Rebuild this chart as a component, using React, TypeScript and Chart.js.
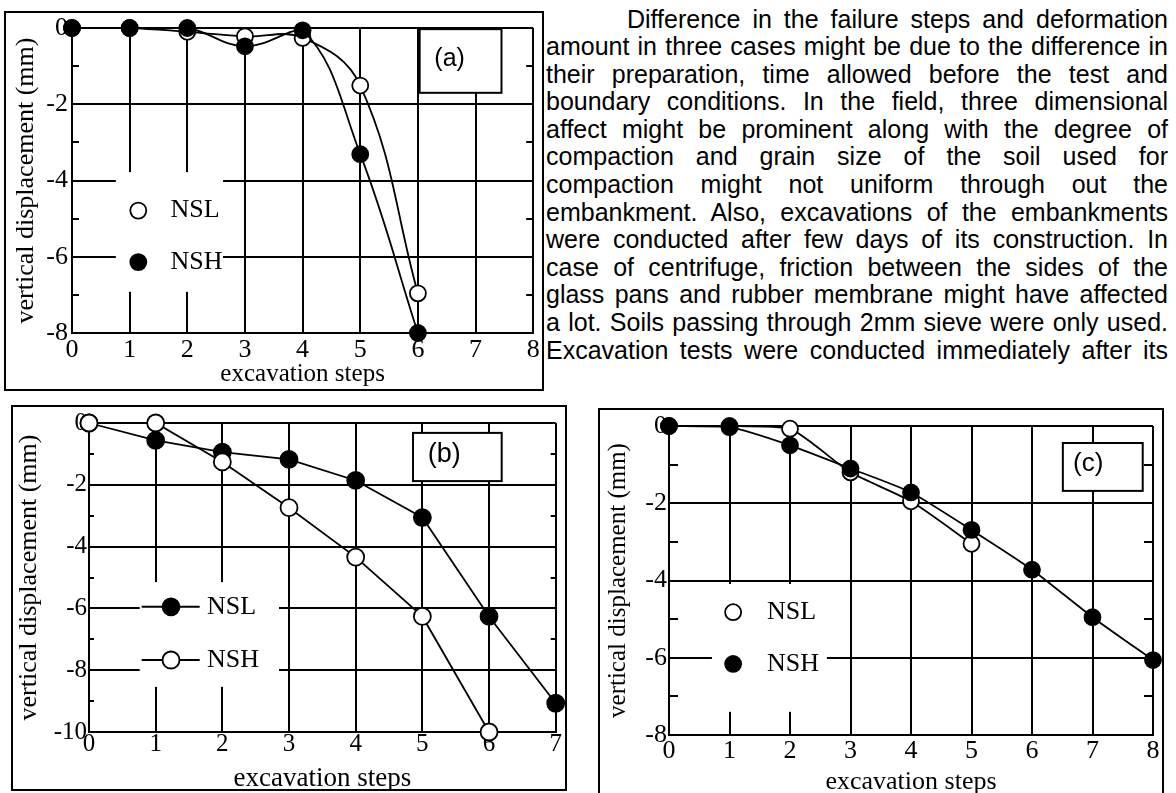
import React, { useEffect, useRef } from "react";
import { Chart, registerables } from "chart.js";

Chart.register(...registerables);

// ---------------- data ----------------
const stepsA = [0, 1, 2, 3, 4, 5, 6];
const nslA = [0, 0, -0.1, -0.22, -0.26, -1.51, -6.96];
const nshA = [0, 0, 0, -0.48, -0.06, -3.31, -8];

const stepsB = [0, 1, 2, 3, 4, 5, 6, 7];
const nslB = [0, -0.56, -0.94, -1.18, -1.86, -3.06, -6.26, -9.07];
const nshB = [0, 0, -1.26, -2.74, -4.34, -6.26, -10];

const stepsC = [0, 1, 2, 3, 4, 5, 6, 7, 8];
const nslC = [0, 0, -0.07, -1.2, -1.95, -3.05];
const nshC = [0, -0.03, -0.5, -1.1, -1.72, -2.69, -3.72, -4.95, -6.06];

const xRangeA = [0, 8];
const yRangeA = [-8, 0];
const xRangeB = [0, 7];
const yRangeB = [-10, 0];
const xRangeC = [0, 8];
const yRangeC = [-8, 0];

const seriesNames = ["NSL", "NSH"];
const panelNames = ["(a)", "(b)", "(c)"];
const xAxisTitle = "excavation steps";
const yAxisTitle = "vertical displacement (mm)";

const paragraphLines = [
  "Difference in the failure steps and deformation",
  "amount in three cases might be due to the difference in",
  "their preparation, time allowed before the test and",
  "boundary conditions. In the field, three dimensional",
  "affect might be prominent along with the degree of",
  "compaction and grain size of the soil used for",
  "compaction might not uniform through out the",
  "embankment. Also, excavations of the embankments",
  "were conducted after few days of its construction. In",
  "case of centrifuge, friction between the sides of the",
  "glass pans and rubber membrane might have affected",
  "a lot. Soils passing through 2mm sieve were only used.",
  "Excavation tests were conducted immediately after its",
];

// ---------------- styling / layout ----------------
const SERIF = '"Liberation Serif", "Times New Roman", serif';
const SANS = '"Liberation Sans", Arial, sans-serif';

type Series = { name: string; xs: number[]; ys: number[]; filled: boolean; top: boolean };
type PanelSpec = {
  name: string;
  canvas: { left: number; top: number; width: number; height: number };
  frame: { left: number; top: number; width: number; height: number };
  padTop: number;
  padRight: number;
  yAxisW: number;
  xAxisH: number;
  xRange: number[];
  yRange: number[];
  tickSize: number;
  xTickPad: number;
  yTickPad: number;
  xTitleSize: number;
  xTitlePad: number;
  yTitleSize: number;
  yTitlePad: number;
  radius: number;
  tension: number;
  minorLen: number;
  series: Series[];
  legend: { rect: number[]; markerX: number; textX: number; rows: number[]; segment: number[] | null; fontSize: number };
  tag: { rect: number[]; tx: number; ty: number; fontSize: number };
};

const panels: PanelSpec[] = [
  {
    name: panelNames[0],
    canvas: { left: 5, top: 12, width: 538, height: 378 },
    frame: { left: 4, top: 11, width: 540, height: 380 },
    padTop: 16,
    padRight: 7,
    yAxisW: 67,
    xAxisH: 57,
    xRange: xRangeA,
    yRange: yRangeA,
    tickSize: 26,
    xTickPad: 2,
    yTickPad: 4,
    xTitleSize: 25,
    xTitlePad: 0.4,
    yTitleSize: 26,
    yTitlePad: 6,
    radius: 8,
    tension: 0.4,
    minorLen: 7,
    series: [
      { name: seriesNames[0], xs: stepsA, ys: nslA, filled: false, top: false },
      { name: seriesNames[1], xs: stepsA, ys: nshA, filled: true, top: true },
    ],
    legend: { rect: [0.76, 2.62, -3.78, -6.92], markerX: 1.15, textX: 1.71, rows: [-4.79, -6.14], segment: null, fontSize: 26 },
    tag: { rect: [6.03, 7.45, -0.03, -1.7], tx: 6.55, ty: -0.83, fontSize: 25 },
  },
  {
    name: panelNames[1],
    canvas: { left: 12, top: 406, width: 554, height: 384 },
    frame: { left: 11, top: 405, width: 556, height: 386 },
    padTop: 17,
    padRight: 10,
    yAxisW: 77,
    xAxisH: 58,
    xRange: xRangeB,
    yRange: yRangeB,
    tickSize: 25,
    xTickPad: -3,
    yTickPad: 2,
    xTitleSize: 27,
    xTitlePad: -5.1,
    yTitleSize: 26,
    yTitlePad: 1.6,
    radius: 8.5,
    tension: 0,
    minorLen: 5,
    series: [
      { name: seriesNames[0], xs: stepsB, ys: nslB, filled: true, top: false },
      { name: seriesNames[1], xs: stepsB, ys: nshB, filled: false, top: true },
    ],
    legend: { rect: [0.76, 2.85, -5.15, -8.54], markerX: 1.23, textX: 1.77, rows: [-5.95, -7.67], segment: [0.79, 1.66], fontSize: 26 },
    tag: { rect: [4.86, 6.19, -0.32, -1.88], tx: 5.33, ty: -1.04, fontSize: 27 },
  },
  {
    name: panelNames[2],
    canvas: { left: 599, top: 409, width: 564, height: 391 },
    frame: { left: 598, top: 408, width: 566, height: 400 },
    padTop: 17,
    padRight: 10,
    yAxisW: 70,
    xAxisH: 65,
    xRange: xRangeC,
    yRange: yRangeC,
    tickSize: 26,
    xTickPad: 1,
    yTickPad: 2,
    xTitleSize: 26,
    xTitlePad: 2.2,
    yTitleSize: 25,
    yTitlePad: 4.3,
    radius: 8,
    tension: 0.2,
    minorLen: 9,
    series: [
      { name: seriesNames[0], xs: stepsC, ys: nslC, filled: false, top: false },
      { name: seriesNames[1], xs: stepsC, ys: nshC, filled: true, top: true },
    ],
    legend: { rect: [0.71, 2.61, -4.09, -7.4], markerX: 1.06, textX: 1.62, rows: [-4.82, -6.16], segment: null, fontSize: 26 },
    tag: { rect: [6.51, 7.83, -0.44, -1.68], tx: 6.93, ty: -0.98, fontSize: 26 },
  },
];

const pts = (xs: number[], ys: number[]) => ys.map((y, i) => ({ x: xs[i], y }));

function decorPlugin(p: PanelSpec) {
  return {
    id: "decor",
    beforeDatasetsDraw(chart: any) {
      const { ctx, chartArea: ca } = chart;
      const x = chart.scales.x;
      const y = chart.scales.y;
      ctx.save();
      // minor ticks at odd values, inside both vertical edges
      ctx.strokeStyle = "#000";
      ctx.lineWidth = 2;
      for (let v = p.yRange[0] + 1; v < p.yRange[1]; v += 2) {
        const py = Math.round(y.getPixelForValue(v));
        ctx.beginPath();
        ctx.moveTo(ca.left, py);
        ctx.lineTo(ca.left + p.minorLen, py);
        ctx.moveTo(ca.right - p.minorLen, py);
        ctx.lineTo(ca.right, py);
        ctx.stroke();
      }
      // legend background
      const L = p.legend;
      const lx1 = x.getPixelForValue(L.rect[0]);
      const lx2 = x.getPixelForValue(L.rect[1]);
      const ly1 = y.getPixelForValue(L.rect[2]);
      const ly2 = y.getPixelForValue(L.rect[3]);
      ctx.fillStyle = "#fff";
      ctx.fillRect(lx1, ly1, lx2 - lx1, ly2 - ly1);
      // panel tag box
      const T = p.tag;
      const tx1 = x.getPixelForValue(T.rect[0]);
      const tx2 = x.getPixelForValue(T.rect[1]);
      const ty1 = y.getPixelForValue(T.rect[2]);
      const ty2 = y.getPixelForValue(T.rect[3]);
      ctx.fillStyle = "#fff";
      ctx.fillRect(tx1, ty1, tx2 - tx1, ty2 - ty1);
      ctx.strokeStyle = "#000";
      ctx.lineWidth = 2;
      ctx.strokeRect(tx1, ty1, tx2 - tx1, ty2 - ty1);
      ctx.fillStyle = "#000";
      ctx.font = `${T.fontSize}px ${SANS}`;
      ctx.textAlign = "center";
      ctx.textBaseline = "alphabetic";
      ctx.fillText(p.name, x.getPixelForValue(T.tx), y.getPixelForValue(T.ty) + 0.26 * T.fontSize);
      ctx.restore();
    },
    afterDatasetsDraw(chart: any) {
      const { ctx } = chart;
      const x = chart.scales.x;
      const y = chart.scales.y;
      const L = p.legend;
      ctx.save();
      seriesNames.forEach((name, i) => {
        const ds = chart.data.datasets.find((d: any) => d.label === name);
        if (!ds) return;
        const cy = y.getPixelForValue(L.rows[i]);
        const mx = x.getPixelForValue(L.markerX);
        if (L.segment) {
          ctx.strokeStyle = "#000";
          ctx.lineWidth = 2;
          ctx.beginPath();
          ctx.moveTo(x.getPixelForValue(L.segment[0]), cy);
          ctx.lineTo(x.getPixelForValue(L.segment[1]), cy);
          ctx.stroke();
        }
        ctx.beginPath();
        ctx.arc(mx, cy, p.radius, 0, Math.PI * 2);
        ctx.fillStyle = ds.pointBackgroundColor;
        ctx.fill();
        ctx.lineWidth = 1.8;
        ctx.strokeStyle = "#000";
        ctx.stroke();
        ctx.fillStyle = "#000";
        ctx.font = `${L.fontSize}px ${SERIF}`;
        ctx.textAlign = "left";
        ctx.textBaseline = "middle";
        ctx.fillText(name, x.getPixelForValue(L.textX), cy);
      });
      ctx.restore();
    },
  };
}

function buildConfig(p: PanelSpec): any {
  const zeroPad = (s: any) => {
    s.paddingLeft = 0;
    s.paddingRight = 0;
    s.paddingTop = 0;
    s.paddingBottom = 0;
  };
  return {
    type: "line",
    data: {
      datasets: p.series.map((s) => ({
        label: s.name,
        data: pts(s.xs, s.ys),
        borderColor: "#000",
        borderWidth: 1.8,
        backgroundColor: s.filled ? "#000" : "#fff",
        pointRadius: p.radius,
        pointHoverRadius: p.radius,
        pointBorderWidth: 1.8,
        pointBorderColor: "#000",
        pointBackgroundColor: s.filled ? "#000" : "#fff",
        pointStyle: "circle",
        tension: p.tension,
        fill: false,
        clip: false,
        order: s.top ? 0 : 1,
      })),
    },
    options: {
      animation: false,
      responsive: false,
      devicePixelRatio: 1,
      events: [],
      layout: { padding: { top: p.padTop, right: p.padRight, left: 0, bottom: 0 } },
      plugins: {
        legend: { display: false },
        tooltip: { enabled: false },
        title: { display: false },
      },
      scales: {
        x: {
          type: "linear",
          min: p.xRange[0],
          max: p.xRange[1],
          afterFit: (s: any) => {
            s.height = p.xAxisH;
            zeroPad(s);
          },
          ticks: {
            stepSize: 1,
            autoSkip: false,
            maxRotation: 0,
            color: "#000",
            padding: p.xTickPad,
            font: { family: SERIF, size: p.tickSize, lineHeight: 1.2 },
          },
          grid: { color: "#000", lineWidth: 2, drawTicks: false },
          border: { color: "#000", width: 2 },
          title: {
            display: true,
            text: xAxisTitle,
            color: "#000",
            font: { family: SERIF, size: p.xTitleSize, lineHeight: 1.2 },
            padding: { top: 0, bottom: p.xTitlePad },
          },
        },
        y: {
          type: "linear",
          min: p.yRange[0],
          max: p.yRange[1],
          afterFit: (s: any) => {
            s.width = p.yAxisW;
            zeroPad(s);
          },
          ticks: {
            stepSize: 2,
            autoSkip: false,
            color: "#000",
            padding: p.yTickPad,
            font: { family: SERIF, size: p.tickSize, lineHeight: 1.2 },
          },
          grid: { color: "#000", lineWidth: 2, drawTicks: false },
          border: { color: "#000", width: 2 },
          title: {
            display: true,
            text: yAxisTitle,
            color: "#000",
            font: { family: SERIF, size: p.yTitleSize, lineHeight: 1.2 },
            padding: { top: p.yTitlePad, bottom: 0 },
          },
        },
      },
    },
    plugins: [decorPlugin(p)],
  };
}

function Panel({ p }: { p: PanelSpec }) {
  const ref = useRef<HTMLCanvasElement | null>(null);
  useEffect(() => {
    if (!ref.current) return;
    const chart = new Chart(ref.current, buildConfig(p));
    return () => chart.destroy();
  }, [p]);
  const c = p.canvas;
  const f = p.frame;
  return (
    <>
      <canvas
        ref={ref}
        width={c.width}
        height={c.height}
        style={{ position: "absolute", left: c.left, top: c.top, width: c.width, height: c.height }}
      />
      <div
        style={{
          position: "absolute",
          left: f.left,
          top: f.top,
          width: f.width,
          height: f.height,
          border: "2px solid #000",
          boxSizing: "border-box",
          pointerEvents: "none",
        }}
      />
    </>
  );
}

export default function App() {
  return (
    <div
      style={{
        position: "absolute",
        left: 0,
        top: 0,
        width: 1176,
        height: 793,
        overflow: "hidden",
        background: "#fff",
      }}
    >
      {panels.map((p) => (
        <Panel key={p.name} p={p} />
      ))}
      <div
        style={{
          position: "absolute",
          left: 546,
          top: 5.5,
          width: 622,
          fontFamily: SANS,
          fontSize: 25,
          lineHeight: "27.6px",
          color: "#000",
        }}
      >
        {paragraphLines.map((t, i) => (
          <div
            key={i}
            style={{
              textAlign: "justify",
              textAlignLast: "justify",
              paddingLeft: i === 0 ? 81 : 0,
            }}
          >
            {t}
          </div>
        ))}
      </div>
    </div>
  );
}
